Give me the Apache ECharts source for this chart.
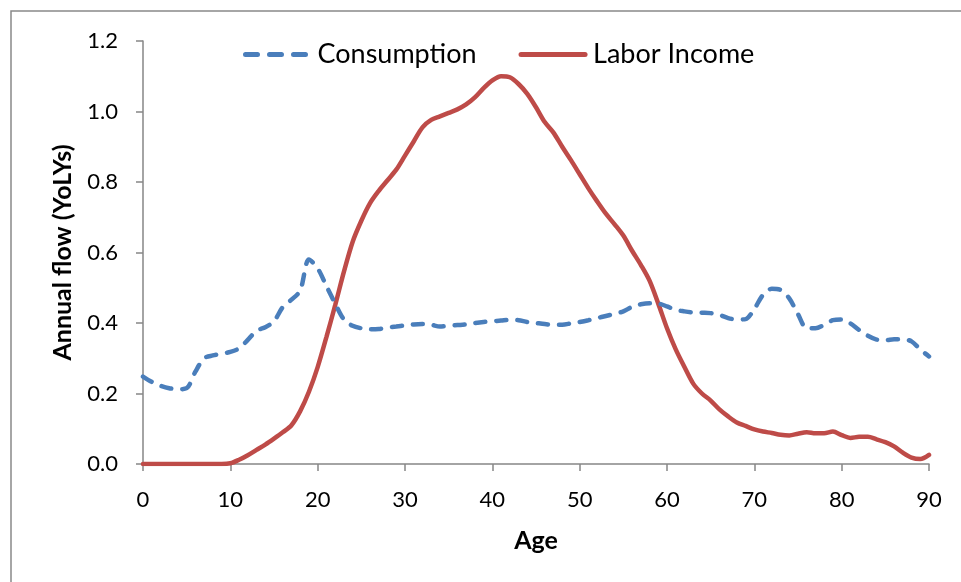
<!DOCTYPE html>
<html>
<head>
<meta charset="utf-8">
<script src="https://cdn.jsdelivr.net/npm/echarts@6/dist/echarts.min.js"></script>
<style>
html,body{margin:0;padding:0;background:#fff;}
#chart{width:961px;height:582px;}
</style>
</head>
<body>
<div id="chart"></div>
<script>
const ages = [];
for (let a = 0; a <= 90; a++) ages.push(a);

const consumption = [
0.248,0.233,0.222,0.215,0.212,0.215,0.262,0.300,0.308,0.313,
0.318,0.328,0.352,0.378,0.388,0.405,0.445,0.466,0.492,0.580,
0.555,0.505,0.455,0.410,0.392,0.385,0.382,0.383,0.387,0.390,
0.393,0.396,0.397,0.395,0.390,0.392,0.394,0.396,0.400,0.403,
0.405,0.407,0.409,0.408,0.403,0.400,0.397,0.395,0.395,0.399,
0.403,0.408,0.414,0.420,0.426,0.433,0.446,0.453,0.456,0.455,
0.447,0.437,0.433,0.430,0.429,0.428,0.423,0.414,0.410,0.411,
0.440,0.480,0.497,0.494,0.470,0.425,0.385,0.385,0.395,0.408,
0.410,0.399,0.380,0.364,0.353,0.351,0.354,0.354,0.348,0.325,
0.305
];

const laborIncome = [
0,0,0,0,0,0,0,0,0,0,
0.002,0.012,0.025,0.040,0.055,0.072,0.090,0.110,0.150,0.205,
0.275,0.360,0.450,0.545,0.630,0.690,0.740,0.775,0.805,0.835,
0.875,0.915,0.955,0.976,0.986,0.996,1.006,1.020,1.040,1.066,
1.088,1.100,1.097,1.078,1.050,1.012,0.970,0.940,0.900,0.862,
0.822,0.782,0.745,0.710,0.680,0.648,0.605,0.565,0.520,0.455,
0.385,0.325,0.275,0.228,0.200,0.180,0.155,0.135,0.118,0.108,
0.098,0.092,0.088,0.083,0.081,0.086,0.090,0.087,0.087,0.092,
0.082,0.074,0.077,0.077,0.070,0.062,0.050,0.032,0.018,0.014,
0.026
];

const seriesNames = ['Consumption', 'Labor Income'];
const xTitle = 'Age';
const yTitle = 'Annual flow (YoLYs)';

const pair = (vals) => ages.map((a, i) => [a, vals[i]]);

const FONT = 'Lato';
const BLUE = '#4a7ebb';
const RED = '#be4b48';
const chart = echarts.init(document.getElementById('chart'));
chart.setOption({
  animation: false,
  backgroundColor: '#ffffff',
  graphic: [{
    type: 'rect',
    shape: { x: 11, y: 11, width: 1000, height: 1000 },
    style: { fill: 'none', stroke: '#898989', lineWidth: 1.5 },
    silent: true
  }],
  grid: { left: 143, right: 32, top: 41, bottom: 118, containLabel: false },
  legend: {
    top: 36,
    left: 238,
    itemWidth: 64,
    itemHeight: 14,
    itemGap: 42,
    textStyle: { fontFamily: FONT, fontSize: 27, color: '#000', padding: [0, 0, 0, 3] },
    data: [
      { name: seriesNames[0], itemStyle: { opacity: 0 }, lineStyle: { color: BLUE, width: 5, type: [12, 12], cap: 'round' } },
      { name: seriesNames[1], itemStyle: { opacity: 0 }, lineStyle: { color: RED, width: 5, type: 'solid', cap: 'round' } }
    ]
  },
  xAxis: {
    type: 'value',
    min: 0, max: 90, interval: 10,
    name: xTitle,
    nameLocation: 'middle',
    nameGap: 64,
    nameTextStyle: { fontFamily: FONT, fontSize: 25, fontWeight: 'bold', color: '#000' },
    axisLine: { show: true, lineStyle: { color: '#868686', width: 1.5 } },
    axisTick: { show: true, length: 7, lineStyle: { color: '#868686', width: 1.5 } },
    axisLabel: { fontFamily: FONT, fontSize: 22, color: '#000', margin: 25 },
    splitLine: { show: false }
  },
  yAxis: {
    type: 'value',
    min: 0, max: 1.2, interval: 0.2,
    name: yTitle,
    nameLocation: 'middle',
    nameGap: 68,
    nameRotate: 90,
    nameTextStyle: { fontFamily: FONT, fontSize: 25, fontWeight: 'bold', color: '#000' },
    axisLine: { show: true, lineStyle: { color: '#868686', width: 1.5 } },
    axisTick: { show: true, length: 7, inside: false, lineStyle: { color: '#868686', width: 1.5 } },
    axisLabel: { fontFamily: FONT, fontSize: 22, color: '#000', margin: 25, formatter: v => v.toFixed(1) },
    splitLine: { show: false }
  },
  series: [
    {
      name: seriesNames[0],
      type: 'line',
      data: pair(consumption),
      symbol: 'none',
      smooth: 0.3,
      lineStyle: { color: BLUE, width: 4.5, type: [10, 11], cap: 'round' },
      itemStyle: { color: BLUE },
      z: 3
    },
    {
      name: seriesNames[1],
      type: 'line',
      data: pair(laborIncome),
      symbol: 'none',
      smooth: 0.3,
      lineStyle: { color: RED, width: 4.5, cap: 'round' },
      itemStyle: { color: RED },
      z: 2
    }
  ]
});
</script>
</body>
</html>
